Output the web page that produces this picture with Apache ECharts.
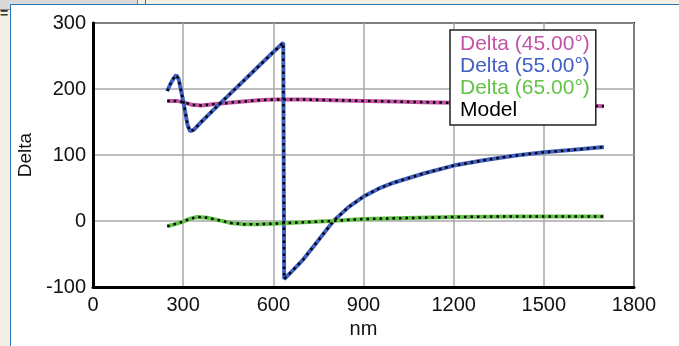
<!DOCTYPE html>
<html>
<head>
<meta charset="utf-8">
<script src="https://cdn.jsdelivr.net/npm/echarts@6/dist/echarts.min.js"></script>
<style>
  html, body { margin: 0; padding: 0; background: #f4efe4; }
  .bar { position: absolute; left: 0; top: 0; width: 137px; height: 9px; background: #d9d9d9; border-right: 1px solid #888; border-bottom: 1px solid #888; }
  .eq { position: absolute; left: 0; top: 9px; width: 8px; height: 9px; font: bold 14px "Liberation Sans"; line-height: 9px; color: #333; }
  .line2 { position: absolute; left: 145px; top: 0; width: 1px; height: 5px; background: #2a78b8; }
  .panel { position: absolute; left: 10px; top: 4px; width: 669px; height: 342px; background: #fff; border-left: 1px solid #2a78b8; border-top: 1px solid #2a78b8; box-sizing: border-box; }
  #main { position: absolute; left: 0; top: 0; width: 679px; height: 346px; }
</style>
</head>
<body>
<div class="bar"></div>
<div class="eq">=</div>
<div class="line2"></div>
<div class="panel"></div>
<div id="main"></div>
<script>
// 图例名称
var names = ['Delta (45.00°)', 'Delta (55.00°)', 'Delta (65.00°)', 'Model'];
var colors = ['#c452a6', '#4160c4', '#62c447', '#000'];

// 45° 测量数据 [nm, delta]
var delta45 = [[247,182],[280,182],[300,180],[330,176],[360,175],[400,177],[450,179],[500,181],
  [550,183],[600,184],[700,184],[800,183],[900,182],[1000,181],[1100,180],[1200,179],
  [1300,178],[1400,177],[1500,176],[1600,175],[1700,174]];

// 55° 测量数据
var delta55 = [[247,197],[258,208],[268,216],[277,221],[285,215],[292,200],[300,182],[308,162],
  [315,145],[323,136],[335,138],[360,150],[400,168],[450,190],[500,212],[550,234],[600,256],
  [633,270],[636,-88],[660,-77],[700,-58],[750,-29],[800,0],[850,21],[900,37],[950,49],
  [1000,58],[1100,72],[1200,84],[1300,92],[1400,99],[1500,104],[1600,108],[1700,112]];

// 65° 测量数据
var delta65 = [[247,-8],[270,-5],[300,-1],[320,3],[347,6],[380,5],[420,1],[460,-3],[500,-5],
  [550,-5],[600,-4],[650,-3],[700,-2],[790,0],[900,3],[1000,4],[1200,6],[1400,7],[1700,7]];

var xTicks = [0, 300, 600, 900, 1200, 1500, 1800];
var yTicks = [-100, 0, 100, 200, 300];

var myChart = echarts.init(document.getElementById('main'));

function measured(name, data, color) {
  return {
    name: name, type: 'line', data: data, symbol: 'none', z: 2,
    lineStyle: { color: color, width: 4 }, itemStyle: { color: color }
  };
}
function model(data) {
  return {
    name: 'Model', type: 'line', data: data, symbol: 'none', z: 3,
    lineStyle: { color: '#000', width: 2.5, type: [2.5, 4], cap: 'butt' }, itemStyle: { color: '#000' }
  };
}

var option = {
  animation: false,
  grid: { left: 93, top: 23, right: 45, bottom: 59, show: true, borderColor: '#000', borderWidth: 2 },
  legend: {
    orient: 'vertical', left: 450, top: 30, width: 144,
    data: names.map(function (n, i) { return { name: n, textStyle: { color: colors[i] } }; }),
    itemWidth: 0, itemHeight: 0, itemGap: 1, icon: 'none',
    padding: [4, 6, 4, 5], backgroundColor: '#fff', borderColor: '#222', borderWidth: 1.5,
    textStyle: { fontFamily: 'Liberation Sans', fontSize: 21, lineHeight: 20 }
  },
  xAxis: {
    type: 'value', min: 0, max: 1800, interval: 300,
    name: 'nm', nameLocation: 'middle', nameGap: 31,
    nameTextStyle: { fontFamily: 'Liberation Sans', fontSize: 20, color: '#111' },
    axisLine: { show: true, onZero: false, lineStyle: { color: '#000', width: 3 } },
    axisTick: { show: false },
    axisLabel: { fontFamily: 'Liberation Sans', fontSize: 20, color: '#111', margin: 8,
      formatter: function (v) { return xTicks.indexOf(v) >= 0 ? String(v) : ''; } },
    splitLine: { show: true, lineStyle: { color: '#a8a8a8', width: 1.5 } }
  },
  yAxis: {
    type: 'value', min: -100, max: 300, interval: 100,
    name: 'Delta', nameLocation: 'middle', nameGap: 53,
    nameTextStyle: { fontFamily: 'Liberation Sans', fontSize: 19, color: '#111' },
    axisLine: { show: true, onZero: false, lineStyle: { color: '#000', width: 3 } },
    axisTick: { show: false },
    axisLabel: { fontFamily: 'Liberation Sans', fontSize: 20, color: '#111', margin: 7,
      formatter: function (v) { return yTicks.indexOf(v) >= 0 ? String(v) : ''; } },
    splitLine: { show: true, lineStyle: { color: '#a8a8a8', width: 1.5 } }
  },
  series: [
    measured(names[0], delta45, colors[0]),
    measured(names[1], delta55, colors[1]),
    measured(names[2], delta65, colors[2]),
    model(delta45), model(delta55), model(delta65)
  ]
};
myChart.setOption(option);
</script>
</body>
</html>
